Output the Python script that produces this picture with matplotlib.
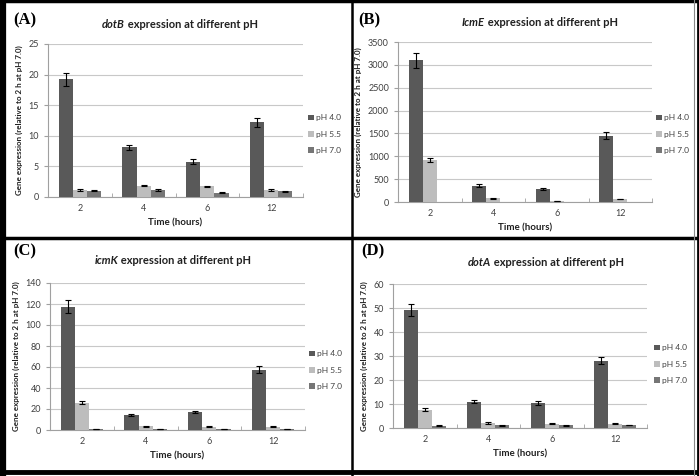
import numpy as np
import matplotlib
matplotlib.use("Agg")
import matplotlib.pyplot as plt
from matplotlib.lines import Line2D

plt.rcParams['font.family'] = ['Lato', 'DejaVu Sans']

times = ['2', '4', '6', '12']
series = ['pH 4.0', 'pH 5.5', 'pH 7.0']
colors = ['#595959', '#bdbdbd', '#767676']

# dotB
dotb_vals = [[19.2, 8.1, 5.8, 12.2], [1.15, 1.85, 1.75, 1.15], [1.0, 1.15, 0.7, 0.9]]
dotb_err = [[1.0, 0.45, 0.35, 0.7], [0.1, 0.1, 0.1, 0.1], [0.08, 0.1, 0.08, 0.1]]
# IcmE
icme_vals = [[3100, 360, 285, 1450], [920, 80, 15, 65], [1, 1, 1, 1]]
icme_err = [[160, 25, 20, 75], [50, 10, 3, 8], [0, 0, 0, 0]]
# icmK
icmk_vals = [[117.5, 14.5, 17, 57.5], [26, 3.5, 3, 3.2], [1, 1, 1, 1]]
icmk_err = [[6, 0.8, 1.0, 3], [1.3, 0.4, 0.4, 0.4], [0.05, 0.05, 0.05, 0.05]]
# dotA
dota_vals = [[49, 11, 10.5, 28], [7.6, 2.1, 1.8, 1.7], [1.0, 1.1, 1.1, 1.2]]
dota_err = [[2.5, 0.7, 0.8, 1.4], [0.6, 0.3, 0.3, 0.2], [0.15, 0.15, 0.15, 0.1]]

panels = [
    ('(A)', 'dotB', dotb_vals, dotb_err, 25, 5, [48, 303, 44, 197], (13, 20), (180, 25), (308, 134)),
    ('(B)', 'IcmE', icme_vals, icme_err, 3500, 500, [398, 652, 42, 202], (358, 20), (540, 22), (656, 134)),
    ('(C)', 'icmK', icmk_vals, icmk_err, 140, 20, [50, 305, 283, 430], (13, 251), (173, 261), (309, 370)),
    ('(D)', 'dotA', dota_vals, dota_err, 60, 10, [393, 647, 284, 428], (361, 251), (546, 262), (654, 364)),
]

W, H = 699, 476
fig = plt.figure(figsize=(W / 100, H / 100), dpi=100)
renderer = fig.canvas.get_renderer()

bw = 1 / 4.5
x = np.arange(len(times))
for lab, gene, vals, errs, ymax, step, box, labpos, titpos, legpos in panels:
    l, r, t, b = box
    ax = fig.add_axes([l / W, 1 - b / H, (r - l) / W, (b - t) / H])
    for i in range(3):
        e = errs[i] if max(errs[i]) > 0 else None
        ax.bar(x + (i - 1) * bw, vals[i], bw, color=colors[i], label=series[i],
               yerr=e, error_kw=dict(ecolor='black', elinewidth=0.8, capsize=2, capthick=0.8),
               zorder=3)
    ax.set_xlim(-0.5, len(times) - 0.5)
    ax.set_ylim(0, ymax)
    ax.set_yticks(np.arange(0, ymax + step / 2, step))
    ax.set_xticks(x)
    ax.set_xticklabels(times)
    ax.set_xticks(np.arange(-0.5, len(times)), minor=True)
    ax.tick_params(axis='x', which='major', length=0, labelsize=6.5, colors='#404040', pad=5)
    ax.tick_params(axis='x', which='minor', length=3, color='#a0a0a0', direction='in')
    ax.tick_params(axis='y', length=3, labelsize=6.5, colors='#404040', color='#a0a0a0')
    ax.grid(axis='y', color='#c8c8c8', linewidth=0.8, zorder=0)
    for s in ['top', 'right']:
        ax.spines[s].set_visible(False)
    for s in ['left', 'bottom']:
        ax.spines[s].set_color('#a0a0a0')
        ax.spines[s].set_linewidth(0.8)
    ax.set_xlabel('Time (hours)', fontsize=7, fontweight='bold', color='#202020', labelpad=4)
    ax.set_ylabel('Gene expression (relative to 2 h at pH 7.0)', fontsize=5.8,
                  fontweight='bold', color='#202020', labelpad=4)

    # title: italic gene name + plain text, centred as one line
    cx, cy = titpos[0] / W, 1 - titpos[1] / H
    t1 = fig.text(cx, cy, gene, fontsize=8, fontweight='bold', style='italic',
                  ha='left', va='center', color='#202020')
    t2 = fig.text(cx, cy, ' expression at different pH', fontsize=8, fontweight='bold',
                  ha='left', va='center', color='#202020')
    w1 = t1.get_window_extent(renderer).width / W
    w2 = t2.get_window_extent(renderer).width / W
    x0 = cx - (w1 + w2) / 2
    t1.set_x(x0)
    t2.set_x(x0 + w1)

    fig.text(labpos[0] / W, 1 - labpos[1] / H, lab, fontsize=12, fontweight='bold',
             family='Liberation Serif', ha='left', va='center')
    ax.legend(loc='center left', bbox_to_anchor=(legpos[0] / W, 1 - legpos[1] / H),
              bbox_transform=fig.transFigure, frameon=False, fontsize=6,
              handlelength=0.7, handleheight=0.7, handletextpad=0.3, labelspacing=1.1,
              borderpad=0, borderaxespad=0, labelcolor='#404040')

# panel borders
def fline(xs, ys, lw, c='black'):
    fig.add_artist(Line2D([v / W for v in xs], [1 - v / H for v in ys], lw=lw, color=c))

fline([0, 699], [1, 1], 2.5)
fline([2.5, 2.5], [0, 476], 4.5)
fline([0, 699], [472, 472], 3.5)
fline([352, 352], [0, 476], 1.8)
fline([0, 699], [238, 238], 2.5)
fline([694, 694], [0, 476], 0.8, '#888888')
fline([698, 698], [0, 476], 2, 'black')

fig.savefig('out.png', dpi=100)
